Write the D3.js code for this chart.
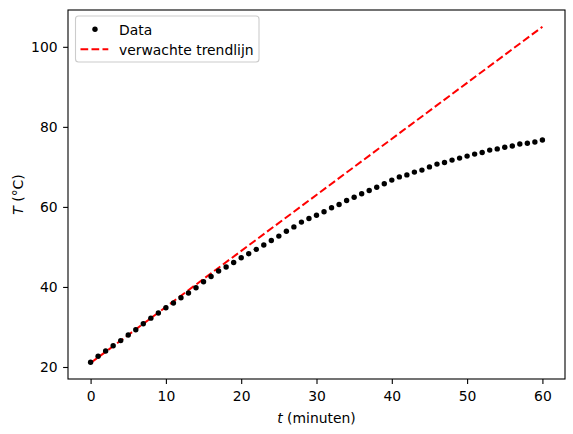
<!DOCTYPE html>
<html>
<head>
<meta charset="utf-8">
<script src="https://cdn.jsdelivr.net/npm/d3@7"></script>
<style>
  body { margin: 0; background: #fff; }
  text { font-family: "DejaVu Sans", sans-serif; }
</style>
</head>
<body>
<script>
/* Data: time in minutes and measured temperature. */
const minutes = d3.range(0, 61)
const temperature = [
  21.2, 22.7, 24.0, 25.3, 26.6, 28.0, 29.3, 30.8, 32.2, 33.5,
  34.8, 36.0, 37.3, 38.5, 39.8, 41.3, 42.6, 44.0, 45.0, 46.1,
  47.3, 48.3, 49.4, 50.5, 51.6, 52.7, 53.9, 55.0, 56.2, 57.1,
  57.9, 58.8, 59.8, 60.6, 61.6, 62.4, 63.3, 64.1, 64.9, 65.8,
  66.7, 67.5, 68.0, 68.7, 69.2, 70.0, 70.7, 71.1, 71.7, 72.2,
  72.7, 73.2, 73.6, 74.2, 74.5, 74.9, 75.2, 75.7, 75.9, 76.2,
  76.7
]

/* Expected trend line: start and end. */
const trendT = [0, 60]
const trendValues = [21, 105]

/* Tick labels. */
const xTicks = [0, 10, 20, 30, 40, 50, 60]
const yTicks = [20, 40, 60, 80, 100]

/* Define svg-size. */
const width = 573
const height = 434
const margin = { top: 10, right: 8, bottom: 55, left: 68 }
const fontSize = 13.9

/* Create svg-element. */
const svg = d3.select("body")
  .append("svg")
  .attr("width", width)
  .attr("height", height)

/* Define scales. */
const x = d3.scaleLinear()
  .domain([-3, 63])
  .range([margin.left, width - margin.right])

const y = d3.scaleLinear()
  .domain([17.0, 109.2])
  .range([height - margin.bottom, margin.top])

/* Axes. */
svg.append("g")
  .attr("transform", `translate(0,${height - margin.bottom})`)
  .call(d3.axisBottom(x).tickValues(xTicks).tickSize(4.9).tickPadding(7))

svg.append("g")
  .attr("transform", `translate(${margin.left},0)`)
  .call(d3.axisLeft(y).tickValues(yTicks).tickSize(4.9).tickPadding(5.5))

svg.selectAll(".tick text")
  .attr("font-size", fontSize)
  .attr("fill", "#000")
  .style("font-family", "DejaVu Sans, sans-serif")
svg.selectAll(".tick line").attr("stroke", "#000").attr("stroke-width", 1.1)
svg.selectAll(".domain").remove()

/* Frame. */
svg.append("rect")
  .attr("x", margin.left)
  .attr("y", margin.top)
  .attr("width", width - margin.left - margin.right)
  .attr("height", height - margin.top - margin.bottom)
  .attr("fill", "none")
  .attr("stroke", "#000")
  .attr("stroke-width", 1.1)

/* Trend line. */
const line = d3.line()
  .x((d, i) => x(trendT[i]))
  .y(d => y(d))

svg.append("path")
  .datum(trendValues)
  .attr("d", line)
  .attr("fill", "none")
  .attr("stroke", "red")
  .attr("stroke-width", 2)
  .attr("stroke-dasharray", "7.7,3.3")

/* Data points. */
svg.append("g")
  .selectAll("circle")
  .data(temperature)
  .enter()
  .append("circle")
  .attr("cx", (d, i) => x(minutes[i]))
  .attr("cy", d => y(d))
  .attr("r", 2.7)
  .attr("fill", "#000")

/* Axis labels. */
const xLabel = svg.append("text")
  .attr("x", (margin.left + width - margin.right) / 2)
  .attr("y", 422.5)
  .attr("text-anchor", "middle")
  .attr("font-size", fontSize)
xLabel.append("tspan").attr("font-style", "italic").text("t")
xLabel.append("tspan").text(" (minuten)")

const yLabel = svg.append("text")
  .attr("transform", `translate(23,${(margin.top + height - margin.bottom) / 2}) rotate(-90)`)
  .attr("text-anchor", "middle")
  .attr("font-size", fontSize)
yLabel.append("tspan").attr("font-style", "italic").text("T")
yLabel.append("tspan").text(" (°C)")

/* Legend. */
const legend = svg.append("g")
legend.append("rect")
  .attr("x", 75.5)
  .attr("y", 16)
  .attr("width", 183.5)
  .attr("height", 46)
  .attr("rx", 3)
  .attr("fill", "#fff")
  .attr("fill-opacity", 0.8)
  .attr("stroke", "#ccc")
  .attr("stroke-width", 1.1)

legend.append("circle")
  .attr("cx", 95)
  .attr("cy", 29.3)
  .attr("r", 2.7)
  .attr("fill", "#000")

legend.append("line")
  .attr("x1", 80.5)
  .attr("x2", 108.3)
  .attr("y1", 49.3)
  .attr("y2", 49.3)
  .attr("stroke", "red")
  .attr("stroke-width", 2)
  .attr("stroke-dasharray", "7.7,3.3")

legend.append("text")
  .attr("x", 119)
  .attr("y", 34.5)
  .attr("font-size", fontSize)
  .text("Data")

legend.append("text")
  .attr("x", 119)
  .attr("y", 54.5)
  .attr("font-size", fontSize)
  .text("verwachte trendlijn")
</script>
</body>
</html>
